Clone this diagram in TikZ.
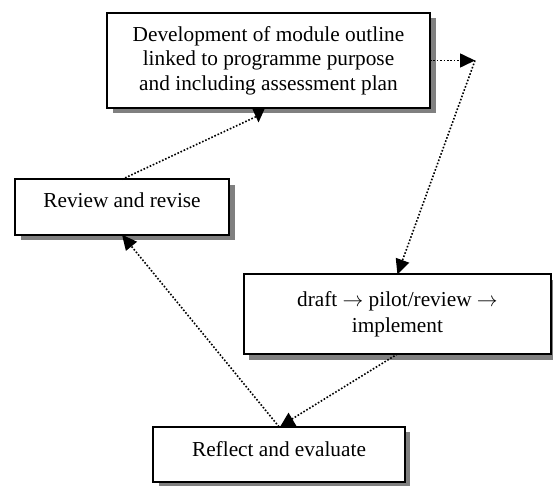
\documentclass[tikz,border=0pt]{standalone}
\usepackage{fontspec}
\setmainfont{Liberation Serif}
\usetikzlibrary{arrows.meta,shadows,calc}
\definecolor{shadowgray}{RGB}{128,128,128}
\tikzset{
  box/.style={rectangle, draw=black, line width=2.2pt, fill=white,
    inner sep=0pt, outer sep=0pt, align=center,
    font=\fontsize{21.3}{24.5}\selectfont,
    drop shadow={shadow xshift=5.5pt, shadow yshift=-5.5pt,
      fill=shadowgray, opacity=1}},
  link/.style={line width=1.6pt, dash pattern=on 1.6pt off 1.8pt},
  tip/.style={-{Triangle[length=15pt,width=14pt]}},
  head/.style={fill=black}
}
\newcommand{\stagearrow}{\ensuremath{\rightarrow}}
\begin{document}
\begin{tikzpicture}[x=1pt,y=1pt]
\useasboundingbox (0,0) rectangle (553,485);
\clip (0,0) rectangle (553,485);

% the four stages of the cycle
\node[box, minimum width=323pt, minimum height=95pt] (b1) at (268.5,424.5)
  {Development of module outline\\linked to programme purpose\\and including assessment plan};
\node[box, minimum width=214pt, minimum height=55.4pt,
  text height=14pt, text depth=12pt] (b2) at (122,278) {Review and revise};
\node[box, minimum width=307.3pt, minimum height=79.7pt,
  font=\fontsize{21.3}{26}\selectfont] (b3) at (397.4,170.8)
  {draft \stagearrow{} pilot/review \stagearrow\\implement};
\node[box, minimum width=251.4pt, minimum height=55.3pt,
  text height=14pt, text depth=9pt] (b4) at (279,30.6) {Reflect and evaluate};

% turning point to the right of the first box
\coordinate (turn) at (475,424.5);

% heads that sit on the box edges
\coordinate (h4) at ($(b4.north)+(9.5,0.6)$);
\coordinate (e4) at ($(h4)+(0,5)$);
\coordinate (h1) at ($(b1.south)+(-10,0)$);
\coordinate (e1) at ($(h1)+(-1,-8)$);

% connectors
\draw[link, tip] (b1.east) -- (turn);
\draw[link, tip] (turn) -- (b3.north);
\draw[link] (b3.south) -- (e4);
\draw[link, tip] (b4.north) -- (b2.south);
\draw[link] (b2.north) -- (e1);

\fill[head] ($(h4)+(-8,0)$) -- ($(h4)+(8,0)$) -- ($(h4)+(0,13.5)$) -- cycle;
\fill[head] ($(h1)+(-6.5,0)$) -- ($(h1)+(6.5,0)$) -- ($(h1)+(0,-14.5)$) -- cycle;
\end{tikzpicture}
\end{document}
